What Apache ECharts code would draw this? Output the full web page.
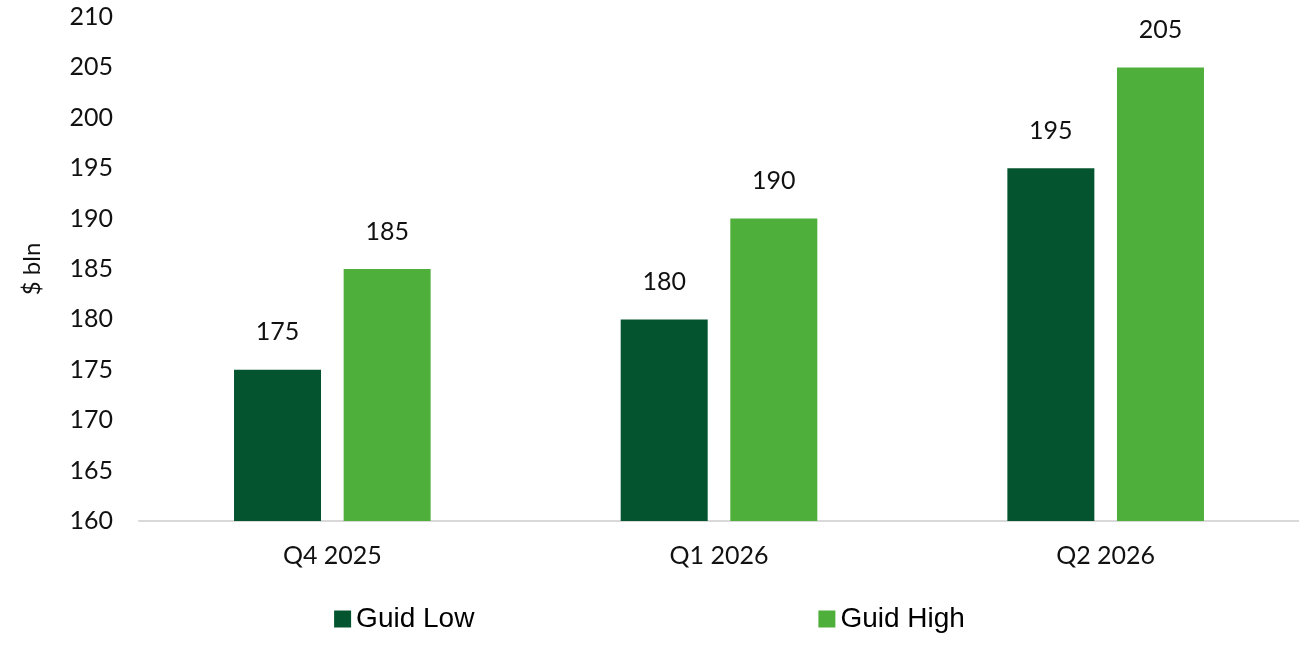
<!DOCTYPE html>
<html>
<head>
<meta charset="utf-8">
<script src="https://cdn.jsdelivr.net/npm/echarts@6/dist/echarts.min.js"></script>
<style>
  html, body { margin: 0; padding: 0; background: #fff; }
  #chart { width: 1299px; height: 650px; }
</style>
</head>
<body>
<div id="chart"></div>
<script>
var categories = ['Q4 2025', 'Q1 2026', 'Q2 2026'];
var guidLow = [175, 180, 195];
var guidHigh = [185, 190, 205];
var seriesNames = ['Guid Low', 'Guid High'];

var labelFont = 'Lato, "Open Sans", sans-serif';

var myChart = echarts.init(document.getElementById('chart'));
myChart.setOption({
    animation: false,
    grid: {
        left: 139,
        right: 0,
        top: 17,
        bottom: 129
    },
    legend: {
        data: seriesNames,
        bottom: 12,
        left: 'center',
        itemWidth: 17,
        itemHeight: 17,
        itemGap: 344,
        icon: 'rect',
        textStyle: {
            fontFamily: '"Liberation Sans", Arial, sans-serif',
            fontSize: 28,
            color: '#000'
        }
    },
    xAxis: {
        type: 'category',
        data: categories,
        axisLine: { lineStyle: { color: '#d9d9d9', width: 2 } },
        axisTick: { show: false },
        axisLabel: {
            fontFamily: labelFont,
            fontSize: 25,
            color: '#111',
            margin: 22
        }
    },
    yAxis: {
        type: 'value',
        min: 160,
        max: 210,
        interval: 5,
        name: '$ bln',
        nameLocation: 'middle',
        nameGap: 95,
        nameRotate: 90,
        nameTextStyle: {
            fontFamily: labelFont,
            fontSize: 24,
            color: '#111'
        },
        splitLine: { show: false },
        axisLine: { show: false },
        axisTick: { show: false },
        axisLabel: {
            fontFamily: labelFont,
            fontSize: 25,
            color: '#111',
            margin: 26
        }
    },
    series: [
        {
            name: seriesNames[0],
            type: 'bar',
            data: guidLow,
            barWidth: 87,
            barGap: '26%',
            itemStyle: { color: '#04552f' },
            label: {
                show: true,
                position: 'top',
                distance: 25,
                fontFamily: labelFont,
                fontSize: 25,
                color: '#111'
            }
        },
        {
            name: seriesNames[1],
            type: 'bar',
            data: guidHigh,
            barWidth: 87,
            itemStyle: { color: '#4faf3b' },
            label: {
                show: true,
                position: 'top',
                distance: 25,
                fontFamily: labelFont,
                fontSize: 25,
                color: '#111'
            }
        }
    ]
});
</script>
</body>
</html>
